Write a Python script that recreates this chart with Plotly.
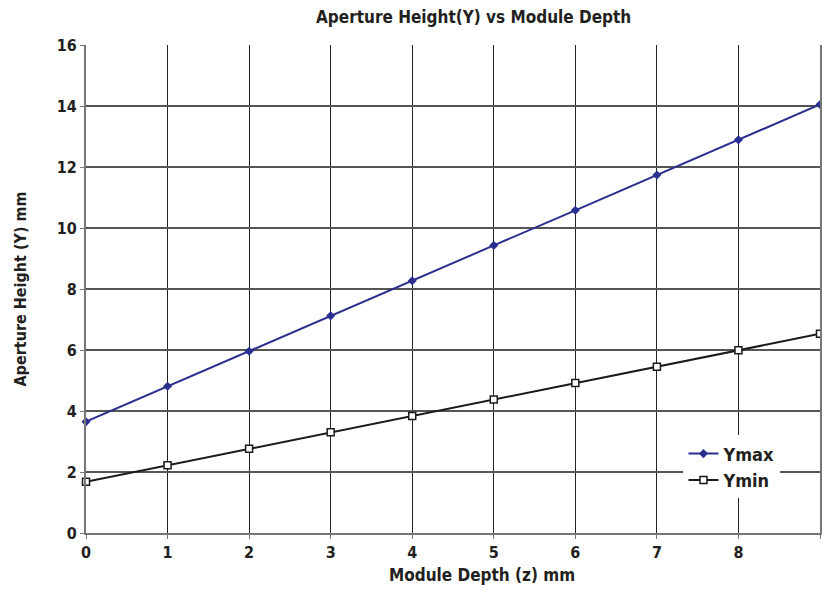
import plotly.graph_objects as go

depth = [0, 1, 2, 3, 4, 5, 6, 7, 8, 9]
ymax = [3.65, 4.81, 5.96, 7.12, 8.27, 9.43, 10.58, 11.74, 12.89, 14.05]
ymin = [1.68, 2.22, 2.76, 3.30, 3.84, 4.38, 4.92, 5.45, 5.99, 6.53]
x_ticks = [0, 1, 2, 3, 4, 5, 6, 7, 8, 9]
y_ticks = [0, 2, 4, 6, 8, 10, 12, 14, 16]

FONT = "DejaVu Sans Condensed, Liberation Sans Narrow, Roboto, sans-serif"

fig = go.Figure()
fig.add_trace(go.Scatter(x=depth, y=ymax, name="<b>Ymax</b>", mode="lines+markers",
                         line=dict(color="#2b2f8f", width=2),
                         marker=dict(symbol="diamond", size=7, color="#2b2f8f"),
                         cliponaxis=False))
fig.add_trace(go.Scatter(x=depth, y=ymin, name="<b>Ymin</b>", mode="lines+markers",
                         line=dict(color="#1a1a1a", width=2),
                         marker=dict(symbol="square", size=7, color="white",
                                     line=dict(color="#1a1a1a", width=1.5)),
                         cliponaxis=False))

fig.update_layout(
    width=822, height=590,
    margin=dict(l=86, r=0, t=45, b=57),
    paper_bgcolor="white", plot_bgcolor="white",
    font=dict(family=FONT, size=16, color="#231f20"),
    showlegend=True,
    legend=dict(x=0.814, y=0.20, xanchor="left", yanchor="top",
                bgcolor="white", borderwidth=0, font=dict(size=18, family=FONT),
                itemwidth=30, tracegroupgap=0),
    annotations=[
        dict(text="<b>Aperture Height(Y) vs Module Depth</b>", xref="paper", yref="paper",
             x=0.528, y=1.057, xanchor="center", yanchor="middle", showarrow=False,
             font=dict(size=17)),
        dict(text="<b>Module Depth (z) mm</b>", xref="paper", yref="paper",
             x=0.539, y=-0.086, xanchor="center", yanchor="middle", showarrow=False,
             font=dict(size=17)),
    ],
)
fig.update_xaxes(range=[0, 9], tickvals=x_ticks, ticktext=[f"<b>{t}</b>" for t in x_ticks],
                 showgrid=True, gridcolor="#222222", gridwidth=1,
                 showline=True, linecolor="#777777", linewidth=2,
                 zeroline=False, ticks="outside", ticklen=4, tickcolor="#777777",
                 tickfont=dict(size=16))
fig.update_yaxes(range=[0, 16], tickvals=y_ticks, ticktext=[f"<b>{t}</b>" for t in y_ticks],
                 showgrid=True, gridcolor="#555555", gridwidth=1.5,
                 showline=True, linecolor="#777777", linewidth=2, mirror=True,
                 zeroline=False, ticks="outside", ticklen=4, tickcolor="#777777",
                 tickfont=dict(size=16),
                 title=dict(text="<b>Aperture Height (Y) mm</b>", font=dict(size=16), standoff=26))

page_fix = ("document.documentElement.style.overflow='hidden';"
            "document.body.style.margin='0';document.body.style.overflow='hidden';")

fig.write_html("out.html", post_script=page_fix, config={"displayModeBar": False})
